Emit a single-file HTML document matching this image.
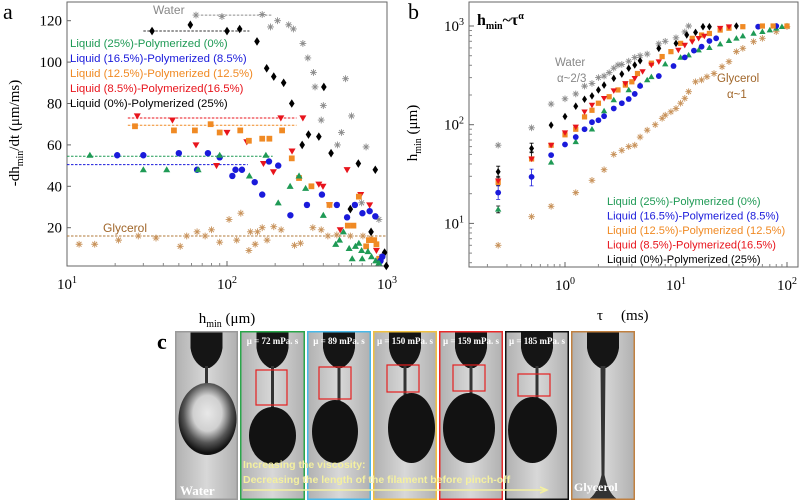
<!DOCTYPE html>
<html><head><meta charset="utf-8"><style>
html,body{margin:0;padding:0;background:#fff;}
svg{display:block;}
text{font-family:"Liberation Sans",sans-serif;}
.serif{font-family:"Liberation Serif",serif;}
</style></head><body>
<svg id="fig" width="800" height="501" viewBox="0 0 800 501" xmlns="http://www.w3.org/2000/svg">
<defs>
<linearGradient id="bgg" x1="0" x2="1"><stop offset="0" stop-color="#b0b0b0"/><stop offset="0.5" stop-color="#d8d8d8"/><stop offset="1" stop-color="#b0b0b0"/></linearGradient>
<radialGradient id="wdrop" cx="0.5" cy="0.42" r="0.55"><stop offset="0" stop-color="#e8e8e8"/><stop offset="0.45" stop-color="#d0d0d0"/><stop offset="0.75" stop-color="#555"/><stop offset="1" stop-color="#111"/></radialGradient>
</defs>
<g id="pa"></g>
<g id="pb"></g>
<g id="pc"></g>
</svg>
<script>
// ---------- Panel a data ----------
const aWaterH=[64,93,166,187,207,243,260,298,320,347,355,400,388,551,519,490,600,740,694,890];
const aWaterV=[122.7,122,123,117,120,118,116,109,102,95,88,79,72,92,66,60,74,59,32,24];
const aBlackH=[34,59,100,120,154,177,196,226,254,295,323,375,403,447,662,845,590,795,966,990];
const aBlackV=[115,118,115,116,110,97,93,90,80,60,65,64,88,56,51,48,29,18,8,1.5];
const aGreenH=[13.9,30,42,66,90,175,138,209,248,282,310,400,478,505,534,580,606,635,667,694,700,760,800,850,890];
const aGreenV=[55,48,48,48,55,55,45,32,40,45,39,26,12,14,18,10,5,11,12.5,9,5,8.5,6,4,3];
const aBlueH=[20.6,30,50,65,76,90,108,113,124,149,166,183,209,249,316,392,486,563,630,702,779,845,911,935];
const aBlueV=[55,55,56,48,56,54,45,48,48,42,36,52,50,26,31,36,31,25,31,27,28,25.5,4,6];
const aOrangeH=[26.6,46.6,63,79,90,121,137,166,184,221,254,282,337,437,569,617,667,771,832,741,859,893];
const aOrangeV=[69,67,67,70,66,67,62,63,63,67,53.5,44,40,31,21,21,35,14,14,11,12,5];
const aRedH=[27.5,45.6,64,86,100,133,169,195,217,255,298,375,398,437,510,563,685,779,859];
const aRedV=[74,72,60,50,66,61.5,51,47,73,57,73,41,40,31,19,48,36,31,9];
const aGlyH=[11.9,14.9,21,27.9,36,51,56,65,73,80,90,103,115,122,137,140,150,155,166,178,196,218,264,288,344,388,427,486,590,707,795,920];
const aGlyV=[12,12,14,16,15,11,16,18,16,19,13,24,14,27,9,18,12,18,20,14,20.5,19,11.5,12.5,20,19,16,16.5,16,16,15,6];
const aPlateauLevel=[122.7,115,73,69.5,54.5,50.5,16];
const aPlateauFrom=[68.6,30,24,24,10,10,10];
const aPlateauTo=[193,138,272,272,193,135,990];
const aYTicks=[20,40,60,80,100,120];
const aXTickExp=[1,2,3];
// ---------- Panel b data ----------
const bWaterT=[0.25,0.5,0.75,1,1.25,1.5,1.75,2,2.25,2.5,2.75,3,3.25,3.75,4.25,4.75,5.5,7,8,10,12,13];
const bWaterH=[62,93,162,183,205,246,262,300,311,337,374,403,408,440,480,500,520,660,700,760,870,1000];
const bBlackT=[0.25,0.5,0.75,1,1.25,1.5,1.75,2,2.25,2.75,3.25,3.75,4.25,4.75,7,10,12.5,15,17.5,20,35];
const bBlackH=[33.4,57.5,99,121,154,181,196,225,252,295,326,373,403,445,594,667,812,862,984,984,1000];
const bRedT=[0.25,0.5,0.75,1,1.25,1.5,1.75,2.25,2.75,3.5,4.25,5,6,7,10.5,12,14,16,18,25,30];
const bRedH=[27,45,62,83,95,135,158,185,221,262,295,345,403,435,570,640,694,750,790,950,984];
const bOrangeT=[0.25,0.5,0.75,1,1.25,1.5,1.75,2,2.5,3,3.5,4,4.5,6,7.5,9,11,14,17,20,25,30,40,60,75,100];
const bOrangeH=[26,45,62,79,90,120,140,165,192,225,252,272,330,420,490,550,667,750,810,840,910,950,984,1000,1000,1000];
const bBlueT=[0.25,0.5,0.75,1,1.25,1.5,1.75,2,2.25,2.75,3.25,3.75,4.25,4.75,7,9.5,12,14.5,17,20,23,55,80];
const bBlueH=[20.5,29.6,49.2,63,75,90,106,111,122,146,165,182,205,247,311,393,481,563,617,705,750,984,1000];
const bGreenT=[0.25,0.75,1.25,1.75,2.25,2.75,3.75,4.75,5.5,6,8,11,13,16,20,25,30,35,40,50,60,70,80,90,100];
const bGreenH=[13.9,41.6,67,90,138,178,225,252,284,306,412,481,508,571,603,657,710,750,792,842,876,910,947,984,1000];
const bGlyT=[0.25,0.5,0.75,1.25,1.75,2.25,2.75,3.25,3.75,4.25,4.75,5.5,6.5,7.5,8,9,10,11,12,13,15,17,19,22,26,30,35,40,50,60,80,100];
const bGlyH=[6,11.7,14.9,20.5,27.3,35,50,55,60,62,75,88,100,116,125,135,146,165,185,216,272,284,306,330,387,435,550,594,694,750,876,984];
const bErrT=[0.25,0.25,0.25,0.25,0.5,0.5,0.5];
const bErrLo=[29,24,17.5,12.8,52,24,43];
const bErrHi=[38,30,24.5,15,65,35.5,53];
const bYTickExp=[1,2,3];
const bXTickExp=[0,1,2];

const NS="http://www.w3.org/2000/svg";
function mk(parent,tag,attrs){const e=document.createElementNS(NS,tag);for(const k in attrs)e.setAttribute(k,attrs[k]);parent.appendChild(e);return e;}

const aX=h=>67+160*(Math.log10(h)-1);
const aY=v=>269.1-2.07*v;
const bX=t=>565+111*Math.log10(t);
const bY=h=>26+98.7*(3-Math.log10(h));

const C={water:"#8c8c8c",black:"#000",green:"#1f9a55",blue:"#1a1adb",orange:"#f08a24",red:"#e8141c",gly:"#c8925a"};

function marker(g,type,x,y,col,s){
  let e;
  if(type==="diamond"){e=mk(g,"polygon",{points:`${x},${y-s*1.3} ${x+s*0.85},${y} ${x},${y+s*1.3} ${x-s*0.85},${y}`,fill:col});}
  else if(type==="circle"){e=mk(g,"circle",{cx:x,cy:y,r:s,fill:col});}
  else if(type==="tri"){e=mk(g,"polygon",{points:`${x},${y-s*1.1} ${x+s*1.1},${y+s*0.8} ${x-s*1.1},${y+s*0.8}`,fill:col});}
  else if(type==="trid"){e=mk(g,"polygon",{points:`${x},${y+s*1.1} ${x+s*1.1},${y-s*0.8} ${x-s*1.1},${y-s*0.8}`,fill:col});}
  else if(type==="square"){e=mk(g,"rect",{x:x-s*0.9,y:y-s*0.9,width:s*1.8,height:s*1.8,fill:col});}
  else {const r=s*1.1;e=mk(g,"path",{d:`M${x-r},${y}H${x+r}M${x},${y-r}V${y+r}M${x-r*0.7},${y-r*0.7}L${x+r*0.7},${y+r*0.7}M${x-r*0.7},${y+r*0.7}L${x+r*0.7},${y-r*0.7}`,stroke:col,"stroke-width":0.9,fill:"none"});}
  return e;
}

// ---------- Panel a ----------
const pa=document.getElementById('pa');
mk(pa,"text",{x:3,y:19,"font-size":22,class:"serif"}).textContent="a";
const aFrame=mk(pa,"rect",{x:67,y:2,width:320,height:264,fill:"none",stroke:"#666","stroke-width":1});


aXTickExp.forEach(p=>{
  const x=aX(Math.pow(10,p));
  mk(pa,"line",{x1:x,x2:x,y1:266,y2:261,stroke:"#666"});
  const t=mk(pa,"text",{x:x,y:289,"text-anchor":"middle","font-size":15,class:"serif"});
  
  
  t.innerHTML=`10<tspan dy="-6" font-size="10">${p}</tspan>`;
  if(p<3)for(let m=2;m<10;m++){const xm=aX(m*Math.pow(10,p));mk(pa,"line",{x1:xm,x2:xm,y1:266,y2:263,stroke:"#888"});}
});
aYTicks.forEach(v=>{
  const y=aY(v);
  mk(pa,"line",{x1:67,x2:71,y1:y,y2:y,stroke:"#666"});
  const t=mk(pa,"text",{x:62,y:y+5,"text-anchor":"end","font-size":15,class:"serif"});
  
  
  t.textContent=v;
});
const axa=mk(pa,"text",{x:227,y:323,"text-anchor":"middle","font-size":15,class:"serif"});


axa.innerHTML='h<tspan dy="4" font-size="10">min</tspan><tspan dy="-4"> (μm)</tspan>';
const aya=mk(pa,"text",{x:0,y:0,"text-anchor":"middle","font-size":15,class:"serif",transform:"translate(19,133) rotate(-90)"});


aya.innerHTML='-dh<tspan dy="4" font-size="10">min</tspan><tspan dy="-4">/dt (μm/ms)</tspan>';
const plCols=[C.water,"#333",C.red,C.orange,C.green,C.blue,"#b07a3a"];
aPlateauLevel.forEach((v,i)=>{
  const l=mk(pa,"line",{x1:aX(aPlateauFrom[i]),x2:aX(aPlateauTo[i]),y1:aY(v),y2:aY(v),stroke:plCols[i],"stroke-width":1,"stroke-dasharray":"2.5,1.5"});
  
  
});
function seriesA(H,V,type,col,name,s){
  const g=mk(pa,"g",{});
  
  
  H.forEach((h,i)=>{const e=marker(g,type,aX(h),aY(V[i]),col,s);
    
    });
}
seriesA(aWaterH,aWaterV,"star",C.water,"series-water-a",3.1);
seriesA(aGlyH,aGlyV,"star",C.gly,"series-glycerol-a",3.1);
seriesA(aBlackH,aBlackV,"diamond",C.black,"series-0-25-a",3.3);
seriesA(aRedH,aRedV,"trid",C.red,"series-8-16-a",3.2);
seriesA(aOrangeH,aOrangeV,"square",C.orange,"series-12-12-a",3.2);
seriesA(aBlueH,aBlueV,"circle",C.blue,"series-16-8-a",3.2);
seriesA(aGreenH,aGreenV,"tri",C.green,"series-25-0-a",3.2);
const legTxt=["Liquid (25%)-Polymerized (0%)","Liquid (16.5%)-Polymerized (8.5%)","Liquid (12.5%)-Polymerized (12.5%)","Liquid (8.5%)-Polymerized(16.5%)","Liquid (0%)-Polymerized (25%)"];
const legCol=[C.green,C.blue,C.orange,C.red,C.black];
legTxt.forEach((s,i)=>{const t=mk(pa,"text",{x:70,y:47+i*15,"font-size":11.4,fill:legCol[i]});
  
  
  t.textContent=s;});
let t1=mk(pa,"text",{x:153,y:14,"font-size":12,fill:"#888"});t1.textContent="Water";

t1=mk(pa,"text",{x:103,y:232,"font-size":12,fill:"#a0662a"});t1.textContent="Glycerol";


// ---------- Panel b ----------
const pb=document.getElementById('pb');
mk(pb,"text",{x:408,y:19,"font-size":22,class:"serif"}).textContent="b";
const bFrame=mk(pb,"rect",{x:469,y:2,width:329,height:265,fill:"none",stroke:"#666","stroke-width":1});


bXTickExp.forEach(p=>{
  const x=bX(Math.pow(10,p));
  mk(pb,"line",{x1:x,x2:x,y1:267,y2:262,stroke:"#666"});
  const t=mk(pb,"text",{x:x,y:290,"text-anchor":"middle","font-size":15,class:"serif"});
  
  
  t.innerHTML=`10<tspan dy="-6" font-size="10">${p}</tspan>`;
});
for(let p=-1;p<2;p++)for(let m=2;m<10;m++){const xm=bX(m*Math.pow(10,p));if(xm>470)mk(pb,"line",{x1:xm,x2:xm,y1:267,y2:264,stroke:"#888"});}
bYTickExp.forEach(p=>{
  const y=bY(Math.pow(10,p));
  mk(pb,"line",{x1:469,x2:474,y1:y,y2:y,stroke:"#666"});
  const t=mk(pb,"text",{x:464,y:y+5,"text-anchor":"end","font-size":15,class:"serif"});
  
  
  t.innerHTML=`10<tspan dy="-6" font-size="10">${p}</tspan>`;
});
for(let p=0;p<4;p++)for(let m=2;m<10;m++){const ym=bY(m*Math.pow(10,p));if(ym>3&&ym<266)mk(pb,"line",{x1:469,x2:472,y1:ym,y2:ym,stroke:"#888"});}
const axb=mk(pb,"text",{x:597,y:320,"font-size":15,class:"serif"});


axb.innerHTML='τ<tspan dx="18">(ms)</tspan>';
const ayb=mk(pb,"text",{x:0,y:0,"text-anchor":"middle","font-size":15,class:"serif",transform:"translate(417,133) rotate(-90)"});


ayb.innerHTML='h<tspan dy="4" font-size="10">min</tspan><tspan dy="-4"> (μm)</tspan>';
const tb=mk(pb,"text",{x:477,y:25,"font-size":16,class:"serif","font-weight":"bold"});


tb.innerHTML='h<tspan dy="4" font-size="10">min</tspan><tspan dy="-4">~τ</tspan><tspan dy="-6" font-size="10">α</tspan>';
bErrT.forEach((t,i)=>{const x=bX(t);
  const e=mk(pb,"path",{d:`M${x},${bY(bErrLo[i])}V${bY(bErrHi[i])}M${x-2},${bY(bErrLo[i])}H${x+2}M${x-2},${bY(bErrHi[i])}H${x+2}`,stroke:i===2||i===5?C.blue:"#000","stroke-width":0.8,fill:"none"});
  
  });
function seriesB(T,H,type,col,name,s){
  const g=mk(pb,"g",{});
  
  
  T.forEach((t,i)=>{const e=marker(g,type,bX(t),bY(H[i]),col,s);
    
    });
}
seriesB(bWaterT,bWaterH,"star",C.water,"series-water-b",3);
seriesB(bGlyT,bGlyH,"star",C.gly,"series-glycerol-b",3);
seriesB(bGreenT,bGreenH,"tri",C.green,"series-25-0-b",2.9);
seriesB(bBlueT,bBlueH,"circle",C.blue,"series-16-8-b",2.9);
seriesB(bOrangeT,bOrangeH,"square",C.orange,"series-12-12-b",2.9);
seriesB(bRedT,bRedH,"trid",C.red,"series-8-16-b",2.9);
seriesB(bBlackT,bBlackH,"diamond",C.black,"series-0-25-b",2.9);
legTxt.forEach((s,i)=>{const t=mk(pb,"text",{x:607,y:205+i*14.5,"font-size":11.1,fill:legCol[i]});
  
  
  t.textContent=s;});
[["Water",555,66,"#888"],["α~2/3",557,82,"#888"],["Glycerol",717,82,"#a0662a"],["α~1",727,98,"#a0662a"]].forEach(a=>{
  const t=mk(pb,"text",{x:a[1],y:a[2],"font-size":11.5,fill:a[3]});t.textContent=a[0];
  });

// ---------- Panel c ----------
const pc=document.getElementById('pc');
mk(pc,"text",{x:157,y:349,"font-size":22,"font-weight":"bold",class:"serif"}).textContent="c";
const frames=[
 {x:175,w:63,col:"#9a9a9a",kind:"water"},
 {x:240,w:65,col:"#2aa64a",mu:"μ = 72 mPa. s",r:[256,370,31,35],d:[249,407,47,51]},
 {x:307,w:64,col:"#48b8e8",mu:"μ = 89 mPa. s",r:[319,367,32,32],d:[312,400,46,57]},
 {x:373,w:64,col:"#f0c040",mu:"μ = 150 mPa. s",r:[387,365,32,27],d:[388,393,47,64]},
 {x:439,w:64,col:"#e82a2a",mu:"μ = 159 mPa. s",r:[453,365,32,26],d:[443,393,52,64]},
 {x:505,w:64,col:"#111",mu:"μ = 185 mPa. s",r:[518,374,32,22],d:[508,397,49,60]},
 {x:571,w:64,col:"#c08040",kind:"gly"}];
frames.forEach(f=>{
  const g=mk(pc,"g",{});
  
  
  mk(g,"rect",{x:f.x,y:331,width:f.w,height:169,fill:"url(#bgg)"});
  const cx=f.x+f.w/2;
  mk(g,"path",{d:`M${cx-16},331 L${cx+16},331 L${cx+16},348 Q${cx+14},362 ${cx+3},368 L${cx-3},368 Q${cx-14},362 ${cx-16},348Z`,fill:"#151515"});
  if(f.kind==="water"){
    mk(g,"rect",{x:cx-1.5,y:366,width:3,height:20,fill:"#333"});
    mk(g,"ellipse",{cx:cx+1,cy:419,rx:29,ry:36,fill:"url(#wdrop)"});
  } else if(f.kind==="gly"){
    mk(g,"path",{d:`M${cx-2.5},366 L${cx+2.5},366 L${cx+1.5},475 Q${cx+6},496 ${cx+16},500 L${cx-16},500 Q${cx-6},496 ${cx-1.5},475Z`,fill:"#333"});
  } else {
    mk(g,"rect",{x:cx-1.5,y:366,width:3,height:f.d[1]-364,fill:"#333"});
    mk(g,"ellipse",{cx:f.d[0]+f.d[2]/2,cy:f.d[1]+f.d[3]/2+3,rx:f.d[2]/2,ry:f.d[3]/2+3,fill:"#121212"});
    mk(g,"rect",{x:f.r[0],y:f.r[1],width:f.r[2],height:f.r[3],fill:"none",stroke:"#e52020","stroke-width":1.2});
    const t=mk(g,"text",{x:cx,y:344,"text-anchor":"middle","font-size":9,"font-weight":"bold",fill:"#fff",class:"serif"});
    
    
    t.textContent=f.mu;
  }
  mk(g,"rect",{x:f.x+0.75,y:331.75,width:f.w-1.5,height:167.5,fill:"none",stroke:f.col,"stroke-width":1.5});
});
let tc=mk(pc,"text",{x:180,y:495,"font-size":13,"font-weight":"bold",fill:"#fff",class:"serif"});tc.textContent="Water";

tc=mk(pc,"text",{x:574,y:491,"font-size":12,"font-weight":"bold",fill:"#fff",class:"serif"});tc.textContent="Glycerol";

tc=mk(pc,"text",{x:243,y:468,"font-size":10.5,"font-weight":"bold",fill:"#f4f0a0"});tc.textContent="Increasing the viscosity:";

tc=mk(pc,"text",{x:243,y:483,"font-size":10.5,"font-weight":"bold",fill:"#f4f0a0"});tc.textContent="Decreasing the length of the filament before pinch-off";

const ar=mk(pc,"path",{d:"M243,490 H545 M540,487 L547,490 L540,493",stroke:"#f4f0a0","stroke-width":1.5,fill:"none"});

</script>
</body></html>
